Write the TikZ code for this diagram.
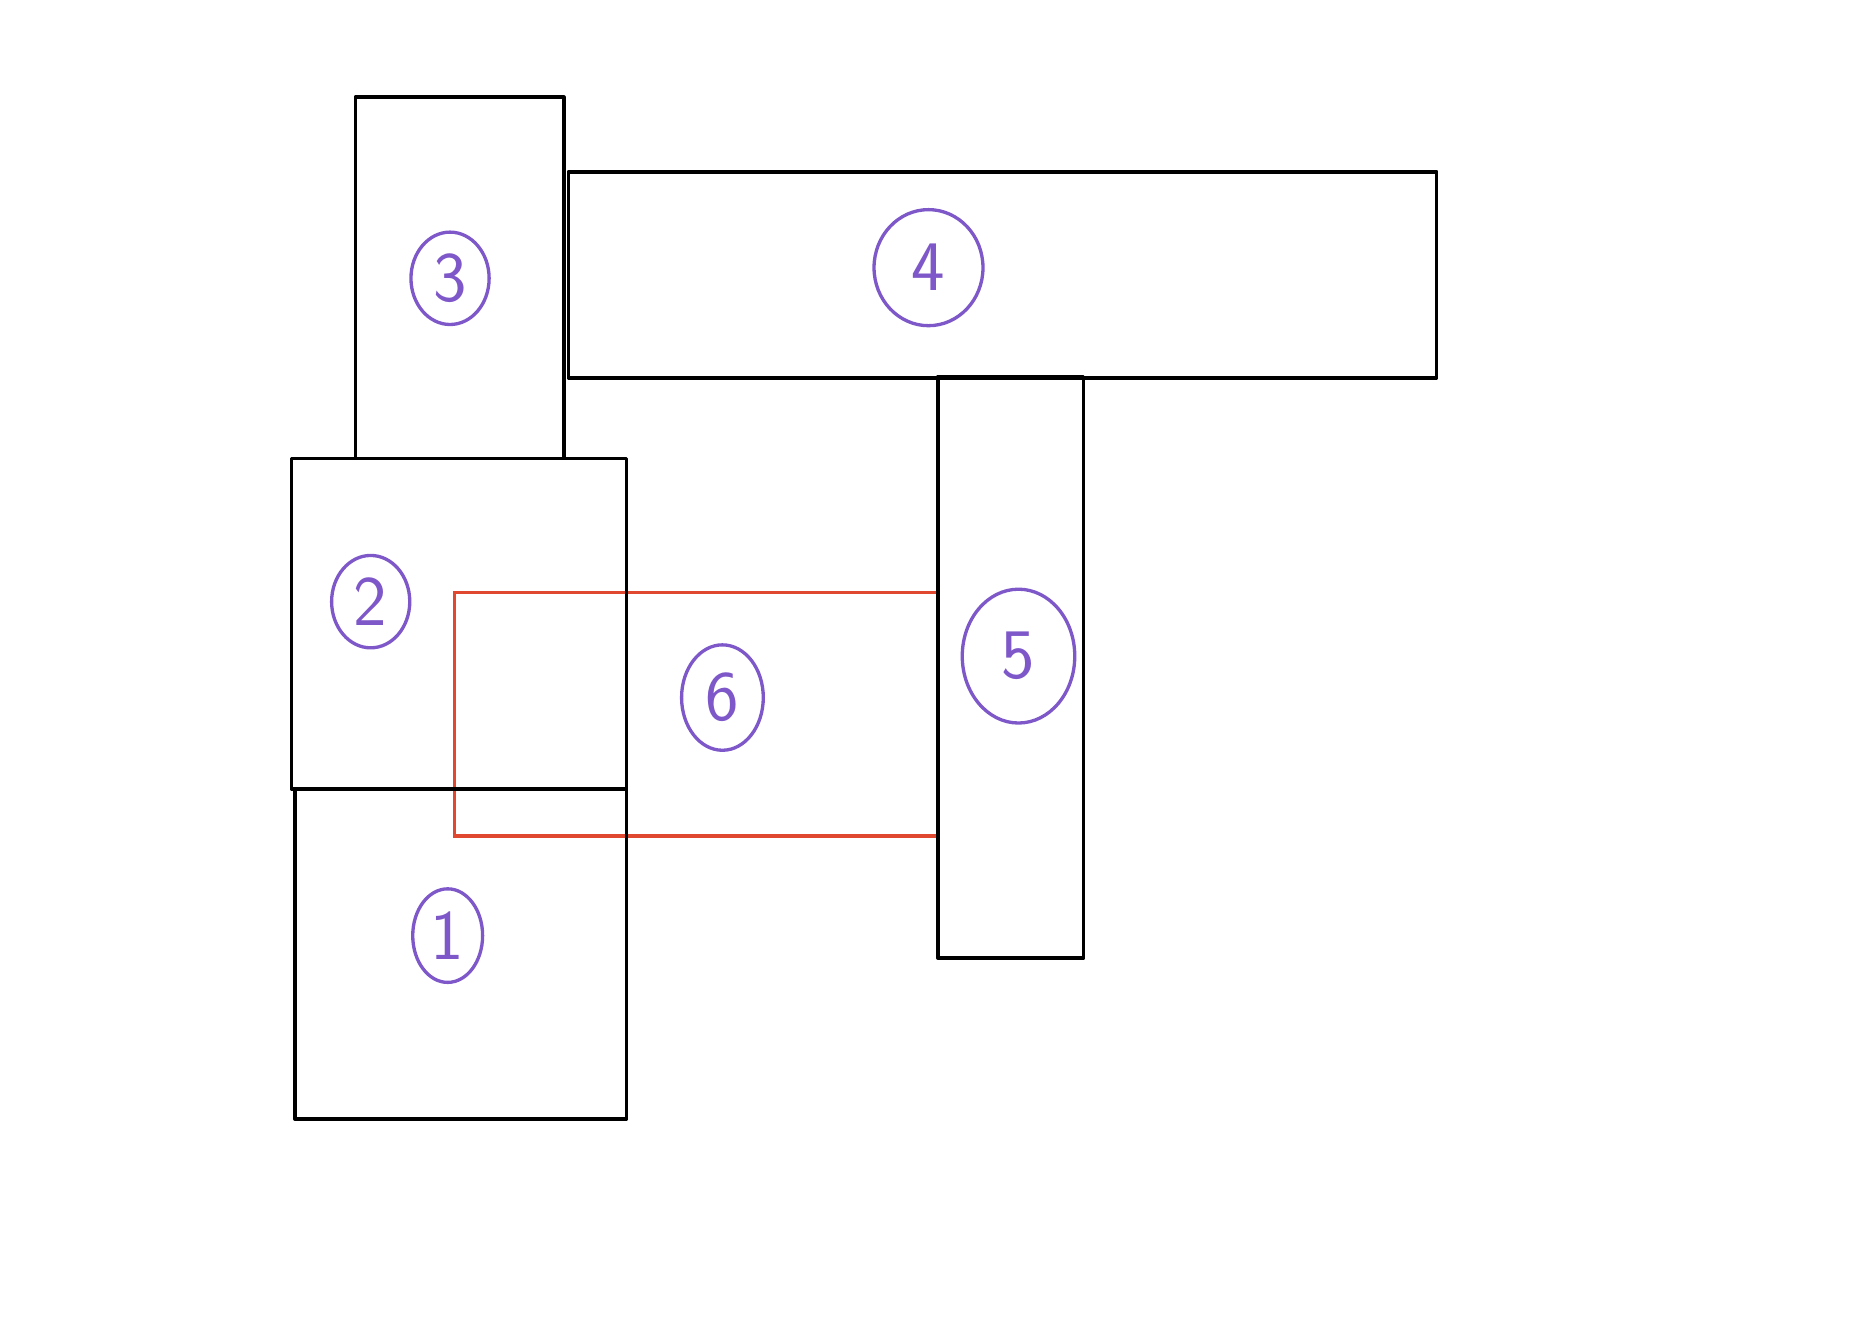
\documentclass[tikz,border=0pt]{standalone}
\usetikzlibrary{shapes.geometric}

\definecolor{tagpurple}{HTML}{7E57C9}
\definecolor{boxred}{HTML}{E0492F}

\tikzset{
    part/.style={draw=black, line width=3pt, line join=round},
    partred/.style={draw=boxred, line width=2.8pt},
    tag/.style={ellipse, draw=tagpurple, text=tagpurple, line width=2.8pt,
        inner sep=0pt, minimum width=66pt, minimum height=78pt,
        font=\sffamily\fontsize{60}{60}\selectfont}
}

\begin{document}
\begin{tikzpicture}[x=1pt, y=-1pt]
    \useasboundingbox (0,0) rectangle (1568,1129);

    % 1. Piros keret (alul)
    \draw[partred] (384,500) rectangle (792,706);

    % 2. Fekete téglalapok
    \draw[part] (300,82) rectangle (476,387);   % 3
    \draw[part] (480,145) rectangle (1213,319); % 4
    \draw[part] (246,387) rectangle (529,666);  % 2
    \draw[part] (249,666) rectangle (529,945);  % 1
    \draw[part] (792,318) rectangle (915,809);  % 5

    % 3. Sorszámok karikában
    \node[tag] (t-3) at (380,235) {3};
    \node[tag, minimum width=92pt, minimum height=98pt] (t-4) at (784,226) {4};
    \node[tag] (t-2) at (313,508) {2};
    \node[tag, minimum width=69pt, minimum height=89pt] (t-6) at (610,589) {6};
    \node[tag, minimum width=95pt, minimum height=113pt] (t-5) at (860,554) {5};
    \node[tag, minimum width=59pt, minimum height=79pt] (t-1) at (378,790) {1};
\end{tikzpicture}
\end{document}
